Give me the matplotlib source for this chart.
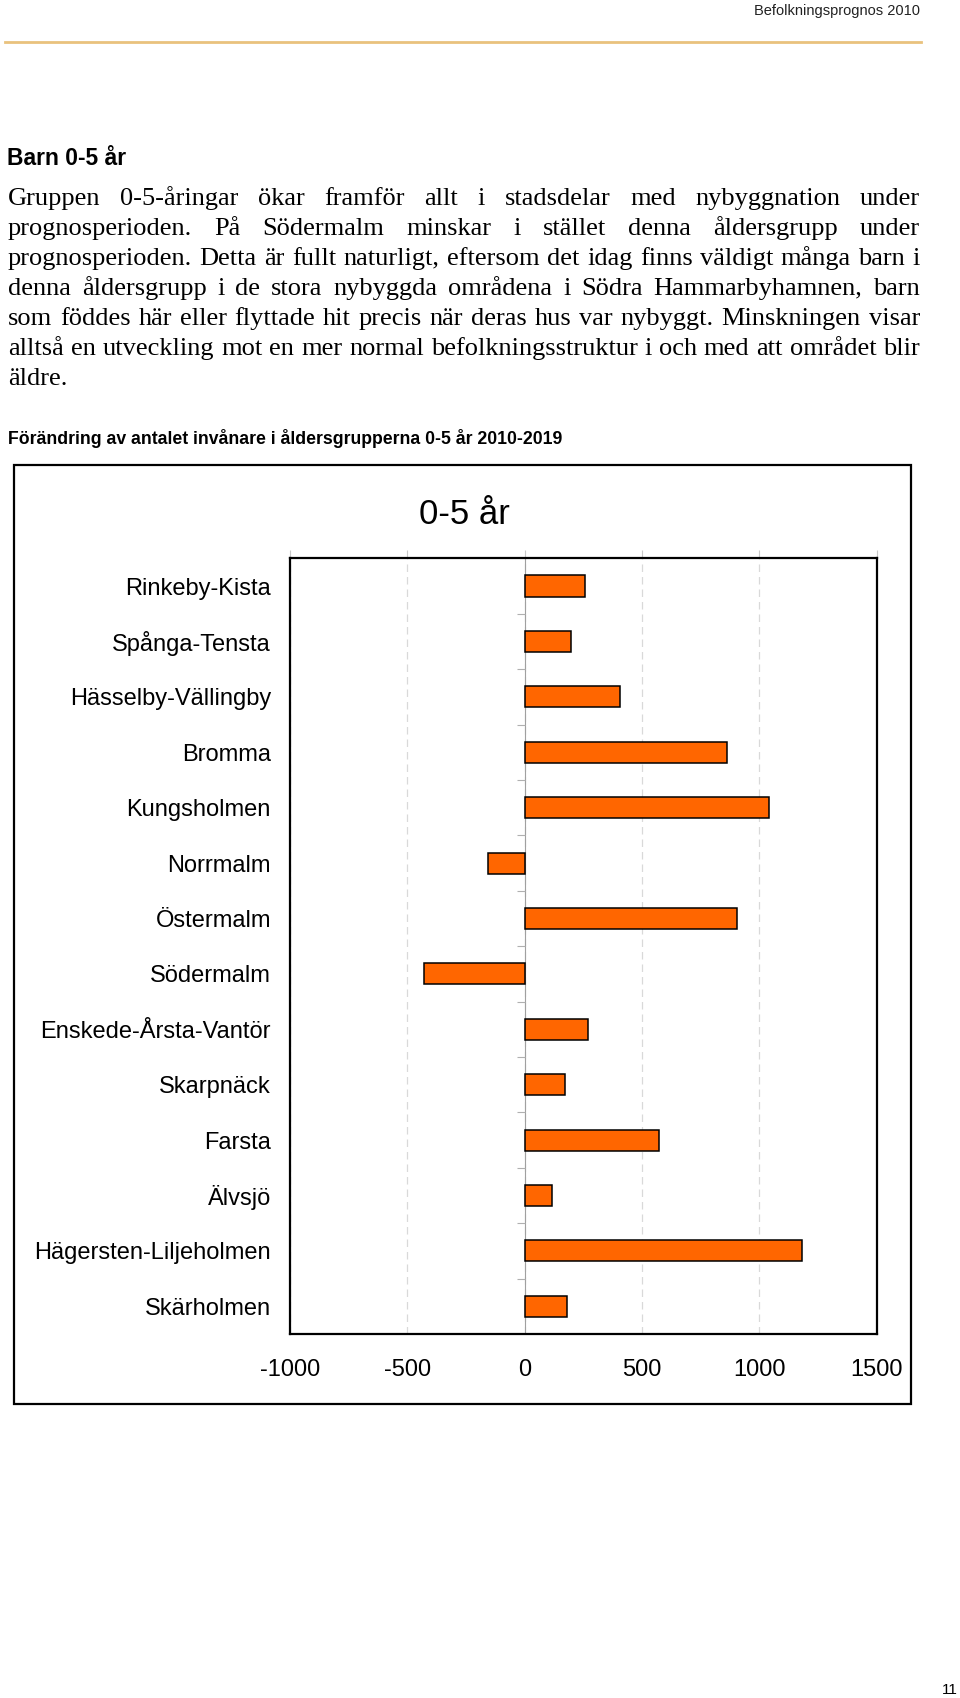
import matplotlib
matplotlib.use("Agg")
import matplotlib.pyplot as plt
from matplotlib.patches import Rectangle
from matplotlib.lines import Line2D

# data
districts = ["Rinkeby-Kista", "Spånga-Tensta", "Hässelby-Vällingby", "Bromma",
             "Kungsholmen", "Norrmalm", "Östermalm", "Södermalm",
             "Enskede-Årsta-Vantör", "Skarpnäck", "Farsta", "Älvsjö",
             "Hägersten-Liljeholmen", "Skärholmen"]
change = [255, 196, 405, 864, 1039, -155, 904, -430, 268, 171, 573, 118, 1180, 179]
xticks = [-1000, -500, 0, 500, 1000, 1500]

body_lines = [
    "Gruppen 0-5-åringar ökar framför allt i stadsdelar med nybyggnation under",
    "prognosperioden. På Södermalm minskar i stället denna åldersgrupp under",
    "prognosperioden. Detta är fullt naturligt, eftersom det idag finns väldigt många barn i",
    "denna åldersgrupp i de stora nybyggda områdena i Södra Hammarbyhamnen, barn",
    "som föddes här eller flyttade hit precis när deras hus var nybyggt. Minskningen visar",
    "alltså en utveckling mot en mer normal befolkningsstruktur i och med att området blir",
    "äldre.",
]

W, H = 960, 1698
fig = plt.figure(figsize=(W / 100, H / 100), dpi=100)
fig.patch.set_facecolor("white")

def fx(px):
    return px / W

def fy(py):
    return 1 - py / H

sans = ["Liberation Sans", "DejaVu Sans"]

# page header
fig.text(fx(920), fy(11), "Befolkningsprognos 2010", ha="right", va="center",
         fontsize=10.5, family=sans, color="#222222")
fig.add_artist(Line2D([fx(5), fx(921)], [fy(41.5), fy(41.5)], color="#E9C27D", lw=2))

# heading
fig.text(fx(7), fy(165), "Barn 0-5 år", ha="left", va="baseline", fontsize=16.5,
         fontweight="bold", family=sans)

# justified body text
renderer = fig.canvas.get_renderer()
left, right = 8, 920
y0, dy = 205, 30
base = 15.5
probe = [fig.text(0, 0, l, fontsize=base, family="Liberation Serif") for l in body_lines[:-1]]
widest = max(t.get_window_extent(renderer).width for t in probe)
for t in probe:
    t.remove()
size = base * (right - left - 4) / widest

for i, line in enumerate(body_lines):
    words = line.split(" ")
    y = fy(y0 + i * dy)
    if i == len(body_lines) - 1:
        fig.text(fx(left), y, line, ha="left", va="baseline", fontsize=size,
                 family="Liberation Serif")
        continue
    texts = [fig.text(0, y, w, ha="left", va="baseline", fontsize=size,
                      family="Liberation Serif") for w in words]
    widths = [t.get_window_extent(renderer).width for t in texts]
    gap = (right - left - sum(widths)) / (len(words) - 1)
    x = left
    for t, w in zip(texts, widths):
        t.set_x(fx(x))
        x += w + gap

# chart caption
fig.text(fx(8), fy(438), "Förändring av antalet invånare i åldersgrupperna 0-5 år 2010-2019",
         ha="left", va="center", fontsize=12.7, fontweight="bold", family=sans)

# outer chart frame
fig.add_artist(Rectangle((fx(13.5), fy(1404)), fx(910.7) - fx(13.5), fy(464.7) - fy(1404),
                         transform=fig.transFigure, fill=False, ec="black", lw=1.6))

fig.text(fx(464), fy(515), "0-5 år", ha="center", va="center", fontsize=25,
         family=sans)

ax = fig.add_axes([fx(290), fy(1334), fx(876.7) - fx(290), fy(558.3) - fy(1334)])
ypos = list(range(len(districts)))
ax.barh(ypos, change, height=0.38, color="#FF6600", edgecolor="black", lw=1.1, zorder=3)
ax.set_xlim(xticks[0], xticks[-1])
ax.set_ylim(len(districts) - 0.5, -0.5)
ax.set_xticks(xticks)
ax.set_xticklabels([str(v) for v in xticks], fontsize=17, family=sans)
ax.set_yticks(ypos)
ax.set_yticklabels(districts, fontsize=17, family=sans)
ax.tick_params(axis="y", length=0, pad=13.7)
ax.tick_params(axis="x", top=True, bottom=False, labeltop=False, labelbottom=True,
               direction="out", length=6, color="#c8c8c8", pad=12)
ax.grid(axis="x", ls=(0, (6, 4)), color="#d9d9d9", lw=0.9, zorder=0)
ax.axvline(0, color="#a0a0a0", lw=0.8, zorder=2)
# category separators on the zero line
ax.hlines([k + 0.5 for k in ypos[:-1]], -33, 0, color="#b0b0b0", lw=0.8, zorder=2)
for s in ax.spines.values():
    s.set_linewidth(1.6)
    s.set_color("black")

# page number
fig.text(fx(958), fy(1690), "11", ha="right", va="center", fontsize=11,
         family=sans)

fig.savefig("out.png", dpi=100)
